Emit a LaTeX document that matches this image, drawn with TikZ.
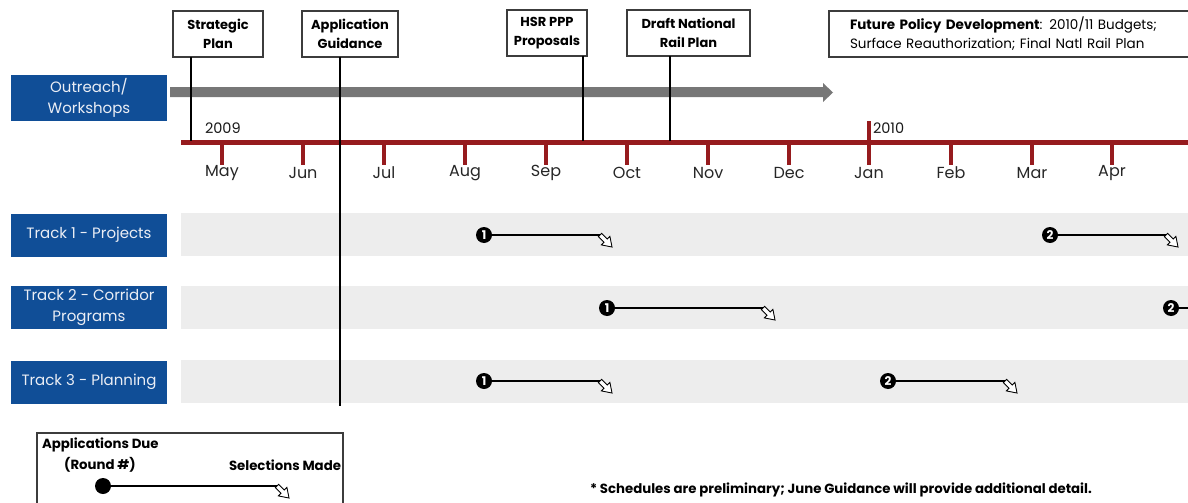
\documentclass[tikz,border=0pt]{standalone}
\usepackage{fontspec}
\setmainfont{Poppins}
\definecolor{trackblue}{RGB}{16,78,151}
\definecolor{tlred}{RGB}{150,27,30}
\definecolor{arrgray}{RGB}{119,119,119}
\definecolor{bandgray}{RGB}{237,237,237}
\definecolor{labwhite}{RGB}{235,238,245}
\definecolor{boxline}{RGB}{60,60,60}
\begin{document}
\begin{tikzpicture}[x=1pt,y=-1pt,
  every node/.style={inner sep=0pt, outer sep=0pt},
  topbox/.style={draw=boxline, line width=1.3pt, fill=white, align=center,
    font=\bfseries\fontsize{13}{19}\selectfont, minimum height=46pt},
  lab/.style={fill=trackblue, text=labwhite, align=center,
    font=\fontsize{15}{21}\selectfont, minimum width=156pt, minimum height=43pt},
  month/.style={font=\fontsize{16}{18}\selectfont, text=black!85},
  yearlab/.style={font=\fontsize{14.5}{16}\selectfont, text=black!90, anchor=west},
  tick/.style={draw=tlred, line width=3.2pt},
  leader/.style={draw=black, line width=1.1pt},
  band/.style={fill=bandgray},
  roundmark/.style={circle, fill=black, minimum size=16pt, text=white,
    font=\bfseries\fontsize{12}{12}\selectfont},
  selline/.style={draw=black, line width=2pt},
  legtext/.style={font=\bfseries\fontsize{13.3}{15}\selectfont},
  seltip/.pic={\draw[black, line width=0.9pt, fill=white, rotate=-45, line join=miter]
    (0,-2.3) -- (8,-2.3) -- (8,-6) -- (17,0) -- (8,6) -- (8,2.3) -- (0,2.3) -- cycle;}
]
\useasboundingbox (0,0) rectangle (1188,503);

% track bands and labels
\fill[band] (181,213) rectangle (1188,256);
\fill[band] (181,286) rectangle (1188,329);
\fill[band] (181,360) rectangle (1188,403);
\node[lab] (tr1) at (89,235) {Track 1 - Projects};
\node[lab] (tr2) at (89,307.5) {Track 2 - Corridor\\Programs};
\node[lab] (tr3) at (89,382) {Track 3 - Planning};
\node[lab, minimum height=46pt] (out) at (89,98) {Outreach/\\Workshops};

% gray outreach arrow
\fill[arrgray] (170,87) -- (823,87) -- (823,83) -- (833,92.5) -- (823,102) -- (823,97) -- (170,97) -- cycle;

% timeline
\fill[tlred] (181,139.5) rectangle (1188,145);
\foreach \x/\m in {222/May,303/Jun,384/Jul,465/Aug,546/Sep,627/Oct,708/Nov,789/Dec,869/Jan,951/Feb,1032/Mar,1112/Apr}{
  \draw[tick] (\x,144) -- (\x,165);
  \node[month] (m\m) at (\x,173) {\m};
}
\draw[tick] (869,121) -- (869,141);
\node[yearlab] (y2009) at (205,128) {2009};
\node[yearlab] (y2010) at (873,128) {2010};

% top boxes
\node[topbox, minimum width=90pt] (sp) at (218,34) {Strategic\\Plan};
\node[topbox, minimum width=96pt] (ag) at (350,34) {Application\\Guidance};
\node[topbox, minimum width=80pt] (hsr) at (547,33) {HSR PPP\\Proposals};
\node[topbox, minimum width=123pt] (dnr) at (688.5,33) {Draft National\\Rail Plan};
\node[topbox, minimum width=362pt, text width=320pt, inner xsep=21pt, align=left,
  font=\fontsize{13.5}{19}\selectfont] (fpd) at (1010,34)
  {\textbf{Future Policy Development}: 2010/11 Budgets;\\Surface Reauthorization; Final Natl Rail Plan};

% leader lines
\coordinate (tsp) at (191,141);
\coordinate (tag) at (340,406);
\coordinate (thsr) at (583,141);
\coordinate (tdnr) at (670,141);
\draw[leader] (sp.south -| tsp) -- (tsp);
\draw[leader] (ag.south -| tag) -- (tag);
\draw[leader] (hsr.south -| thsr) -- (thsr);
\draw[leader] (dnr.south -| tdnr) -- (tdnr);

% rounds
\node[roundmark] (a1) at (484,235) {1};
\coordinate (e1) at (600,235);
\draw[selline] (a1) -- (e1);
\pic at (e1) {seltip};

\node[roundmark] (a2) at (1050,235) {2};
\coordinate (e2) at (1166,235);
\draw[selline] (a2) -- (e2);
\pic at (e2) {seltip};

\node[roundmark] (b1) at (607,308) {1};
\coordinate (f1) at (763,308);
\draw[selline] (b1) -- (f1);
\pic at (f1) {seltip};

\node[roundmark] (b2) at (1171,308) {2};
\coordinate (f2) at (1190,308);
\draw[selline] (b2) -- (f2);

\node[roundmark] (c1) at (484,381) {1};
\coordinate (g1) at (600,381);
\draw[selline] (c1) -- (g1);
\pic at (g1) {seltip};

\node[roundmark] (c2) at (888,381) {2};
\coordinate (g2) at (1005,381);
\draw[selline] (c2) -- (g2);
\pic at (g2) {seltip};

% legend
\draw[draw=boxline, line width=1.3pt] (37,433) rectangle (343,515);
\node[legtext, anchor=west] (lg1) at (42,445) {Applications Due};
\node[legtext] (lg2) at (100,465) {(Round \#)};
\node[legtext, anchor=east] (lg3) at (341,465) {Selections Made};
\node[circle, fill=black, minimum size=16pt] (lgc) at (103,486) {};
\coordinate (lge) at (277,486);
\draw[selline] (lgc) -- (lge);
\pic at (lge) {seltip};

% footnote
\node[legtext, anchor=west] (note) at (590,490) {* Schedules are preliminary; June Guidance will provide additional detail.};
\end{tikzpicture}
\end{document}
